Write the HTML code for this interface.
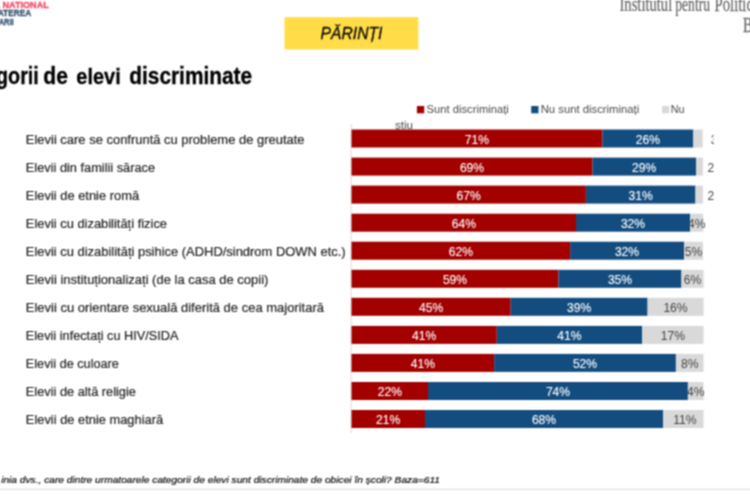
<!DOCTYPE html>
<html lang="ro">
<head>
<meta charset="utf-8">
<title>Categorii de elevi discriminate</title>
<style>
html,body{margin:0;padding:0;background:#fff;}
body{width:750px;height:500px;overflow:hidden;position:relative;}
svg{position:absolute;left:0;top:0;display:block;}
text{font-family:"Liberation Sans",sans-serif;}
text.serif{font-family:"Liberation Serif",serif;}
</style>
</head>
<body>
<svg width="750" height="500" viewBox="0 0 750 500">
<defs><filter id="soft" filterUnits="userSpaceOnUse" x="-10" y="-10" width="770" height="520" color-interpolation-filters="sRGB"><feConvolveMatrix order="3" kernelMatrix="1 2 1 2 4 2 1 2 1" divisor="16" edgeMode="duplicate" preserveAlpha="true"/></filter><clipPath id="clipR"><rect x="0" y="0" width="713.8" height="500"/></clipPath></defs>
<g filter="url(#soft)">
<rect x="-10" y="-10" width="770" height="520" fill="#ffffff"/>

<text transform="translate(48.74,7.6) scale(0.9665,1)" text-anchor="end" font-size="9.4" font-weight="700" fill="#f04a64" stroke="#f04a64" stroke-width="0.3">PACTUL NATIONAL</text>
<text transform="translate(31.20,16.3) scale(0.8843,1)" text-anchor="end" font-size="9.4" font-weight="700" fill="#34506e" stroke="#34506e" stroke-width="0.3">PENTRU COMBATEREA</text>
<text transform="translate(13.68,24.8) scale(0.8000,1)" text-anchor="end" font-size="9.4" font-weight="700" fill="#34506e" stroke="#34506e" stroke-width="0.3">DISCRIMINARII</text>
<text class="serif" transform="translate(619.50,10.8) scale(0.7307,1)" font-size="20" fill="#686868" stroke="#686868" stroke-width="0.25">Institutul</text>
<text class="serif" transform="translate(675.30,10.8) scale(0.6791,1)" font-size="20" fill="#686868" stroke="#686868" stroke-width="0.25">pentru</text>
<text class="serif" transform="translate(714.6,10.8) scale(0.735,1)" font-size="20" fill="#686868" stroke="#686868" stroke-width="0.25">Politici Publice</text>
<text class="serif" transform="translate(743,31.9) scale(0.735,1)" font-size="20" fill="#686868" stroke="#686868" stroke-width="0.25">București</text>
<rect x="284.5" y="17.2" width="133.8" height="32.2" fill="#ffdc48"/>
<text transform="translate(320.60,39.1) scale(0.9916,1)" font-size="15.8" font-style="italic" fill="#0c0c0c" stroke="#0c0c0c" stroke-width="0.3">PĂRINȚI</text>
<text transform="translate(38.79,83.5) scale(0.8578,1)" text-anchor="end" font-size="23" font-weight="700" fill="#000" stroke="#000" stroke-width="0.3">Categorii</text>
<text transform="translate(43.30,83.5) scale(0.9175,1)" font-size="23" font-weight="700" fill="#000" stroke="#000" stroke-width="0.3">de</text>
<text transform="translate(76.30,83.5) scale(0.8701,1)" font-size="23" font-weight="700" fill="#000" stroke="#000" stroke-width="0.3">elevi</text>
<text transform="translate(129.30,83.5) scale(0.9064,1)" font-size="23" font-weight="700" fill="#000" stroke="#000" stroke-width="0.3">discriminate</text>
<rect x="416.9" y="106" width="7.3" height="7.3" fill="#a30000"/>
<text transform="translate(426.50,113.4) scale(1.1225,1)" font-size="10" fill="#4a4a4a">Sunt discriminați</text>
<rect x="531.2" y="106" width="7.3" height="7.3" fill="#134d80"/>
<text transform="translate(540.70,113.4) scale(1.1318,1)" font-size="10" fill="#4a4a4a">Nu sunt discriminați</text>
<rect x="662" y="106" width="7.3" height="7.3" fill="#d9d9d9"/>
<text transform="translate(670.80,113.4) scale(1.0800,1)" font-size="10" fill="#4a4a4a">Nu</text>
<text transform="translate(394.90,128.8) scale(1.1667,1)" font-size="10" fill="#4a4a4a">știu</text>
<rect x="350.7" y="124" width="0.9" height="309" fill="#d4d4d4"/>
<text transform="translate(25.80,143.8) scale(1.0802,1)" font-size="12" fill="#262626" stroke="#262626" stroke-width="0.2">Elevii care se confruntă cu probleme de greutate</text>
<rect x="351.5" y="129.5" width="250.9" height="18.0" fill="#a30000"/>
<rect x="602.4" y="129.5" width="90.9" height="18.0" fill="#134d80"/>
<rect x="693.3" y="129.5" width="9.4" height="18.0" fill="#d9d9d9"/>
<text transform="translate(476.9,143.6) scale(0.97,1)" font-size="12.5" fill="#fff" stroke="#fff" stroke-width="0.1" text-anchor="middle">71%</text>
<text transform="translate(647.8,143.6) scale(0.97,1)" font-size="12.5" fill="#fff" stroke="#fff" stroke-width="0.1" text-anchor="middle">26%</text>
<g clip-path="url(#clipR)"><text transform="translate(710.7,143.6) scale(0.97,1)" font-size="12.5" fill="#444">3%</text></g>
<text transform="translate(25.80,171.8) scale(1.0657,1)" font-size="12" fill="#262626" stroke="#262626" stroke-width="0.2">Elevii din familii sărace</text>
<rect x="351.5" y="157.6" width="241.0" height="18.0" fill="#a30000"/>
<rect x="592.5" y="157.6" width="103.5" height="18.0" fill="#134d80"/>
<rect x="696.0" y="157.6" width="6.9" height="18.0" fill="#d9d9d9"/>
<text transform="translate(472.0,171.6) scale(0.97,1)" font-size="12.5" fill="#fff" stroke="#fff" stroke-width="0.1" text-anchor="middle">69%</text>
<text transform="translate(644.2,171.6) scale(0.97,1)" font-size="12.5" fill="#fff" stroke="#fff" stroke-width="0.1" text-anchor="middle">29%</text>
<g clip-path="url(#clipR)"><text transform="translate(707.5,171.6) scale(0.97,1)" font-size="12.5" fill="#444">2%</text></g>
<text transform="translate(25.80,199.8) scale(1.0756,1)" font-size="12" fill="#262626" stroke="#262626" stroke-width="0.2">Elevii de etnie romă</text>
<rect x="351.5" y="185.6" width="234.4" height="18.0" fill="#a30000"/>
<rect x="585.9" y="185.6" width="109.6" height="18.0" fill="#134d80"/>
<rect x="695.5" y="185.6" width="7.4" height="18.0" fill="#d9d9d9"/>
<text transform="translate(468.7,199.6) scale(0.97,1)" font-size="12.5" fill="#fff" stroke="#fff" stroke-width="0.1" text-anchor="middle">67%</text>
<text transform="translate(640.7,199.6) scale(0.97,1)" font-size="12.5" fill="#fff" stroke="#fff" stroke-width="0.1" text-anchor="middle">31%</text>
<g clip-path="url(#clipR)"><text transform="translate(707.5,199.6) scale(0.97,1)" font-size="12.5" fill="#444">2%</text></g>
<text transform="translate(25.80,227.8) scale(1.0758,1)" font-size="12" fill="#262626" stroke="#262626" stroke-width="0.2">Elevii cu dizabilități fizice</text>
<rect x="351.5" y="213.7" width="224.5" height="18.0" fill="#a30000"/>
<rect x="576.0" y="213.7" width="114.1" height="18.0" fill="#134d80"/>
<rect x="690.1" y="213.7" width="13.1" height="18.0" fill="#d9d9d9"/>
<text transform="translate(463.8,227.6) scale(0.97,1)" font-size="12.5" fill="#fff" stroke="#fff" stroke-width="0.1" text-anchor="middle">64%</text>
<text transform="translate(633.0,227.6) scale(0.97,1)" font-size="12.5" fill="#fff" stroke="#fff" stroke-width="0.1" text-anchor="middle">32%</text>
<text transform="translate(696.7,227.6) scale(0.97,1)" font-size="12.5" fill="#444" text-anchor="middle">4%</text>
<text transform="translate(25.80,255.8) scale(1.0790,1)" font-size="12" fill="#262626" stroke="#262626" stroke-width="0.2">Elevii cu dizabilități psihice (ADHD/sindrom DOWN etc.)</text>
<rect x="351.5" y="241.7" width="218.6" height="18.0" fill="#a30000"/>
<rect x="570.1" y="241.7" width="113.9" height="18.0" fill="#134d80"/>
<rect x="684.0" y="241.7" width="19.0" height="18.0" fill="#d9d9d9"/>
<text transform="translate(460.8,255.6) scale(0.97,1)" font-size="12.5" fill="#fff" stroke="#fff" stroke-width="0.1" text-anchor="middle">62%</text>
<text transform="translate(627.0,255.6) scale(0.97,1)" font-size="12.5" fill="#fff" stroke="#fff" stroke-width="0.1" text-anchor="middle">32%</text>
<text transform="translate(693.5,255.6) scale(0.97,1)" font-size="12.5" fill="#444" text-anchor="middle">5%</text>
<text transform="translate(25.80,283.8) scale(1.0829,1)" font-size="12" fill="#262626" stroke="#262626" stroke-width="0.2">Elevii instituționalizați (de la casa de copii)</text>
<rect x="351.5" y="269.8" width="207.0" height="18.0" fill="#a30000"/>
<rect x="558.5" y="269.8" width="123.0" height="18.0" fill="#134d80"/>
<rect x="681.5" y="269.8" width="22.1" height="18.0" fill="#d9d9d9"/>
<text transform="translate(455.0,283.6) scale(0.97,1)" font-size="12.5" fill="#fff" stroke="#fff" stroke-width="0.1" text-anchor="middle">59%</text>
<text transform="translate(620.0,283.6) scale(0.97,1)" font-size="12.5" fill="#fff" stroke="#fff" stroke-width="0.1" text-anchor="middle">35%</text>
<text transform="translate(692.5,283.6) scale(0.97,1)" font-size="12.5" fill="#444" text-anchor="middle">6%</text>
<text transform="translate(25.80,311.8) scale(1.0830,1)" font-size="12" fill="#262626" stroke="#262626" stroke-width="0.2">Elevii cu orientare sexuală diferită de cea majoritară</text>
<rect x="351.5" y="297.8" width="159.2" height="18.0" fill="#a30000"/>
<rect x="510.7" y="297.8" width="136.9" height="18.0" fill="#134d80"/>
<rect x="647.6" y="297.8" width="55.9" height="18.0" fill="#d9d9d9"/>
<text transform="translate(431.1,311.6) scale(0.97,1)" font-size="12.5" fill="#fff" stroke="#fff" stroke-width="0.1" text-anchor="middle">45%</text>
<text transform="translate(579.1,311.6) scale(0.97,1)" font-size="12.5" fill="#fff" stroke="#fff" stroke-width="0.1" text-anchor="middle">39%</text>
<text transform="translate(675.5,311.6) scale(0.97,1)" font-size="12.5" fill="#444" text-anchor="middle">16%</text>
<text transform="translate(25.80,339.8) scale(1.0608,1)" font-size="12" fill="#262626" stroke="#262626" stroke-width="0.2">Elevii infectați cu HIV/SIDA</text>
<rect x="351.5" y="325.9" width="145.3" height="18.0" fill="#a30000"/>
<rect x="496.8" y="325.9" width="145.2" height="18.0" fill="#134d80"/>
<rect x="642.0" y="325.9" width="61.5" height="18.0" fill="#d9d9d9"/>
<text transform="translate(424.1,339.6) scale(0.97,1)" font-size="12.5" fill="#fff" stroke="#fff" stroke-width="0.1" text-anchor="middle">41%</text>
<text transform="translate(569.4,339.6) scale(0.97,1)" font-size="12.5" fill="#fff" stroke="#fff" stroke-width="0.1" text-anchor="middle">41%</text>
<text transform="translate(672.8,339.6) scale(0.97,1)" font-size="12.5" fill="#444" text-anchor="middle">17%</text>
<text transform="translate(25.80,367.8) scale(1.0580,1)" font-size="12" fill="#262626" stroke="#262626" stroke-width="0.2">Elevii de culoare</text>
<rect x="351.5" y="353.9" width="142.6" height="18.0" fill="#a30000"/>
<rect x="494.1" y="353.9" width="181.8" height="18.0" fill="#134d80"/>
<rect x="675.9" y="353.9" width="27.6" height="18.0" fill="#d9d9d9"/>
<text transform="translate(422.8,367.6) scale(0.97,1)" font-size="12.5" fill="#fff" stroke="#fff" stroke-width="0.1" text-anchor="middle">41%</text>
<text transform="translate(585.0,367.6) scale(0.97,1)" font-size="12.5" fill="#fff" stroke="#fff" stroke-width="0.1" text-anchor="middle">52%</text>
<text transform="translate(689.7,367.6) scale(0.97,1)" font-size="12.5" fill="#444" text-anchor="middle">8%</text>
<text transform="translate(25.80,395.8) scale(1.0664,1)" font-size="12" fill="#262626" stroke="#262626" stroke-width="0.2">Elevii de altă religie</text>
<rect x="351.5" y="382.0" width="76.5" height="18.0" fill="#a30000"/>
<rect x="428.0" y="382.0" width="259.9" height="18.0" fill="#134d80"/>
<rect x="687.9" y="382.0" width="15.6" height="18.0" fill="#d9d9d9"/>
<text transform="translate(389.8,395.6) scale(0.97,1)" font-size="12.5" fill="#fff" stroke="#fff" stroke-width="0.1" text-anchor="middle">22%</text>
<text transform="translate(558.0,395.6) scale(0.97,1)" font-size="12.5" fill="#fff" stroke="#fff" stroke-width="0.1" text-anchor="middle">74%</text>
<text transform="translate(695.7,395.6) scale(0.97,1)" font-size="12.5" fill="#444" text-anchor="middle">4%</text>
<text transform="translate(25.80,423.8) scale(1.0732,1)" font-size="12" fill="#262626" stroke="#262626" stroke-width="0.2">Elevii de etnie maghiară</text>
<rect x="351.5" y="410.0" width="73.5" height="18.0" fill="#a30000"/>
<rect x="425.0" y="410.0" width="238.0" height="18.0" fill="#134d80"/>
<rect x="663.0" y="410.0" width="40.5" height="18.0" fill="#d9d9d9"/>
<text transform="translate(388.2,423.6) scale(0.97,1)" font-size="12.5" fill="#fff" stroke="#fff" stroke-width="0.1" text-anchor="middle">21%</text>
<text transform="translate(544.0,423.6) scale(0.97,1)" font-size="12.5" fill="#fff" stroke="#fff" stroke-width="0.1" text-anchor="middle">68%</text>
<text transform="translate(684.9,423.6) scale(0.97,1)" font-size="12.5" fill="#444" text-anchor="middle">11%</text>
<text transform="translate(439.99,482.5) scale(1.0958,1)" text-anchor="end" font-size="9.3" font-style="italic" fill="#111" stroke="#111" stroke-width="0.22">inia dvs., care dintre urmatoarele categorii de elevi sunt discriminate de obicei în școli? Baza=611</text>
<rect x="-10" y="488.8" width="770" height="1.2" fill="#dddddd"/>
</g>
</svg>
</body>
</html>
